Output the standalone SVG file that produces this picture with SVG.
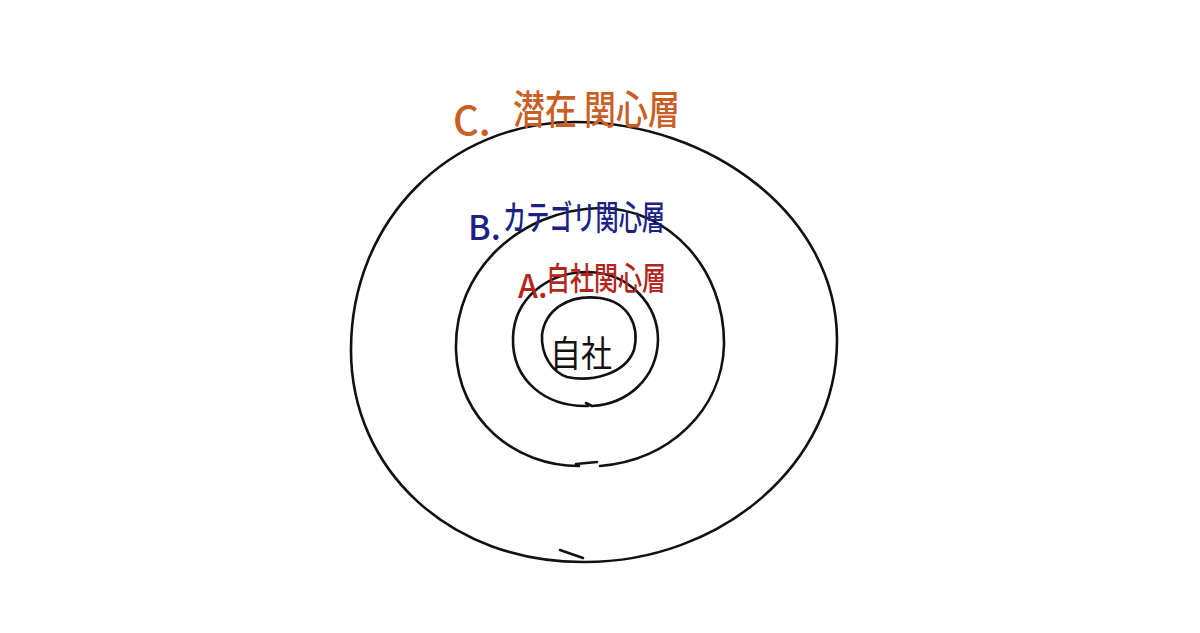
<svg xmlns="http://www.w3.org/2000/svg" width="1200" height="633" viewBox="0 0 1200 633">
<style>
.ring{fill:none;stroke:#111;stroke-width:2.6;stroke-linecap:round;stroke-linejoin:round}
.lbl{font-family:"Noto Sans CJK JP","Noto Sans",sans-serif;font-weight:500}
.c{fill:#c95f26;font-size:40px}
.b{fill:#1c2185;font-size:34px}
.a{fill:#b3261e;font-size:32px}
.s{fill:#111;font-size:36px;font-weight:normal}
</style>
<rect width="1200" height="633" fill="#fff"/>
<g id="rings">
<g id="outer-ring">
<path class="ring" d="M585,562 C450,563 351,470 351,350 C351,220 450,122 575,122 C710,122 837,215 837,340 C837,465 720,562 585,562"/>
<path class="ring" d="M560,550 L583,558"/>
</g>
<g id="middle-ring">
<path class="ring" d="M579,466 C515,466 458,420 456,350 C454,270 520,210 600,208 C670,208 725,270 724,345 C722,410 670,460 600,466 M576,464 L597,462"/>
</g>
<g id="inner-ring">
<path class="ring" d="M588,406 C545,407 512,380 513,338 C514,298 548,272 588,272 C630,273 658,305 658,340 C657,378 628,404 592,406 L586,403"/>
</g>
</g>
<g id="node-self">
<path class="ring" d="M567,377 C590,382 625,375 634,350 C640,325 628,302 600,298 C568,294 545,310 542,335 C541,355 552,372 567,377"/>
<text class="lbl s" x="550" y="367" textLength="62" lengthAdjust="spacingAndGlyphs">自社</text>
</g>
<g id="label-c">
<text class="lbl c" x="453" y="135">C.</text>
<text class="lbl c" x="513" y="124" textLength="167" lengthAdjust="spacingAndGlyphs">潜在 関心層</text>
</g>
<g id="label-b">
<text class="lbl b" x="468" y="240">B.</text>
<text class="lbl b" x="503" y="230" textLength="162" lengthAdjust="spacingAndGlyphs">カテゴリ関心層</text>
</g>
<g id="label-a">
<text class="lbl a" x="518" y="298">A.</text>
<text class="lbl a" x="546" y="290" textLength="120" lengthAdjust="spacingAndGlyphs">自社関心層</text>
</g>
</svg>
